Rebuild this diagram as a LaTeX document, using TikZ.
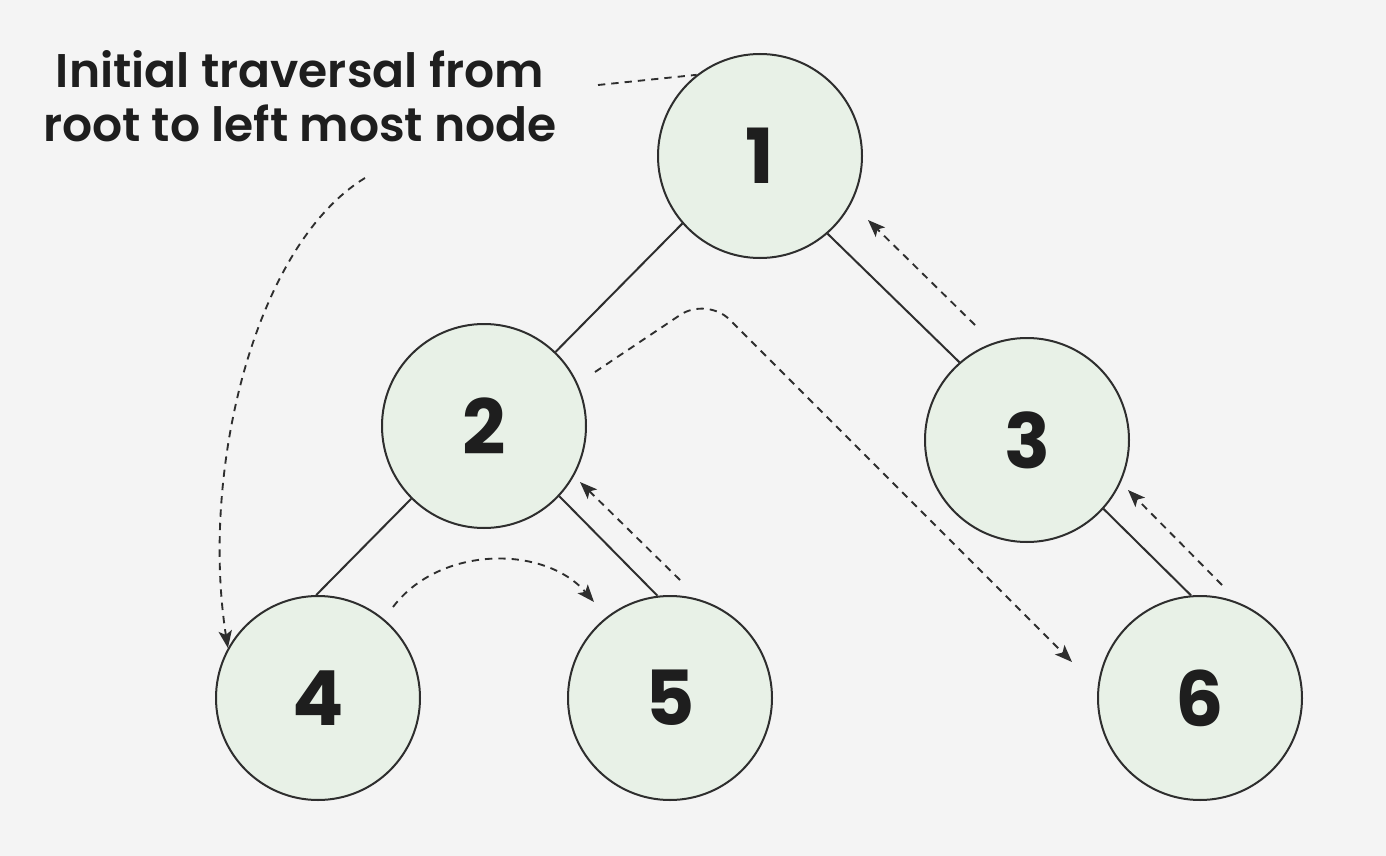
\documentclass[tikz,border=0pt]{standalone}
\usepackage{fontspec}
\setmainfont{Poppins}[BoldFont={Poppins SemiBold}]
\newfontfamily\digitfont{Poppins Bold}
\usetikzlibrary{arrows.meta,calc}
\definecolor{bg}{HTML}{F4F4F4}
\definecolor{nodefill}{HTML}{E8F1E7}
\definecolor{ink}{HTML}{2E2E2E}
\definecolor{txt}{HTML}{1E1E1E}
\begin{document}
\begin{tikzpicture}[x=0.75pt,y=-0.75pt,
  treenode/.style={circle,draw=ink,line width=1.5pt,fill=nodefill,minimum size=153pt,inner sep=0pt,
    font=\fontsize{57}{60}\digitfont,text=txt},
  edge/.style={draw=ink,line width=1.5pt},
  trav/.style={draw=ink,line width=1.4pt,dash pattern=on 5.5pt off 4.5pt},
  arr/.style={trav,-{Stealth[length=13pt,width=10pt,inset=3pt]}}]
\fill[bg] (0,0) rectangle (1386,856);
\useasboundingbox (0,0) rectangle (1386,856);
\node[align=center,font=\fontsize{35.4}{40.5}\selectfont\bfseries,text=txt] (lbl) at (300,96)
  {Initial traversal from\\root to left most node};
\node[treenode] (n1) at (760,156) {1};
\node[treenode] (n2) at (484,426) {2};
\node[treenode] (n3) at (1027,440) {3};
\node[treenode] (n4) at (318,698) {4};
\node[treenode] (n5) at (670,698) {5};
\node[treenode] (n6) at (1200,698) {6};
% tree edges
\draw[edge] (n1.221) -- (n2.46);
\draw[edge] (n1.-49) -- (n3.131);
\draw[edge] (n2.225) -- (n4.91);
\draw[edge] (n2.-43) -- (n5.97);
\draw[edge] (n3.-42) -- (n6.95);
% traversal
\coordinate (t1) at (598,85);
\draw[trav] (t1) -- (n1.128);
\coordinate (t2) at (365,178);
\draw[arr] (t2) .. controls (255,245) and (200,470) .. (n4.151);
\draw[arr] ($(n4)+(75,-91)$) .. controls (440,545) and (545,545) .. ($(n5)+(-76,-96)$);
\draw[arr] ($(n5)+(10,-118)$) -- ($(n2)+(96,56)$);
\draw[arr,rounded corners=24pt] ($(n2)+(111,-54)$) -- (707,297) -- ($(n6)+(-128,-36)$);
\draw[arr] ($(n6)+(22,-113)$) -- ($(n3)+(101,50)$);
\draw[arr] ($(n3)+(-52,-115)$) -- ($(n1)+(108,64)$);
\end{tikzpicture}
\end{document}
